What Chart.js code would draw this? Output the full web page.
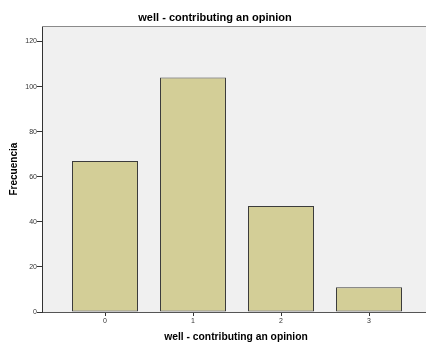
<!DOCTYPE html>
<html><head><meta charset="utf-8">
<script src="https://cdn.jsdelivr.net/npm/chart.js@4/dist/chart.umd.min.js"></script>
<style>
html,body{margin:0;padding:0;background:#fff;overflow:hidden;width:426px;height:343px}
#wrap{width:430px;height:343px;position:relative}
canvas{display:block}
</style></head><body><div id="wrap"><canvas id="c" width="430" height="343"></canvas></div>
<script>
const categories = [0, 1, 2, 3];
const frequencies = [67, 104, 47, 11];
const yTicks = [0, 20, 40, 60, 80, 100, 120];
const chartTitle = 'well - contributing an opinion';
const xAxisTitle = 'well - contributing an opinion';
const yAxisTitle = 'Frecuencia';

const FONT = '"Liberation Sans", Arial, sans-serif';

const bgPlugin = {
  id: 'bg',
  beforeDraw(chart) {
    const {ctx, chartArea: a} = chart;
    ctx.save();
    ctx.fillStyle = '#ffffff';
    ctx.fillRect(0, 0, chart.width, chart.height);
    ctx.fillStyle = '#f0f0f0';
    ctx.fillRect(a.left, a.top, a.right - a.left, a.bottom - a.top);
    ctx.restore();
  },
  afterDraw(chart) {
    const {ctx, chartArea: a} = chart;
    ctx.save();
    ctx.strokeStyle = '#8a8a8a';
    ctx.lineWidth = 1;
    ctx.beginPath();
    ctx.moveTo(a.left, Math.round(a.top) + 0.5);
    ctx.lineTo(a.right, Math.round(a.top) + 0.5);
    ctx.stroke();
    ctx.restore();
  }
};

new Chart(document.getElementById('c'), {
  type: 'bar',
  data: {
    datasets: [{
      data: categories.map((c, i) => ({x: c, y: frequencies[i]})),
      backgroundColor: '#d3ce97',
      borderColor: '#3c3c3c',
      borderWidth: 1,
      borderSkipped: false,
      barPercentage: 0.75,
      categoryPercentage: 1
    }]
  },
  options: {
    responsive: false,
    animation: false,
    devicePixelRatio: 1,
    layout: {padding: 0},
    plugins: {
      legend: {display: false},
      tooltip: {enabled: false},
      title: {
        display: true,
        text: chartTitle,
        color: '#000',
        font: {family: FONT, size: 11, weight: 'bold'},
        padding: {top: 11, bottom: 2}
      }
    },
    scales: {
      x: {
        type: 'linear',
        offset: false,
        min: -0.71591,
        max: 3.69318,
        afterBuildTicks: s => { s.ticks = categories.map(v => ({value: v})); },
        afterFit: s => { s.height = 31; },
        grid: {offset: false, drawOnChartArea: false, drawTicks: true, tickLength: 4, color: '#333', tickWidth: 1},
        border: {display: true, color: '#555', width: 1},
        ticks: {font: {family: FONT, size: 7}, color: '#333', padding: 1, maxRotation: 0,
                callback: v => String(v)},
        title: {display: true, text: xAxisTitle, color: '#000',
                font: {family: FONT, size: 10.3, weight: 'bold'}, padding: {top: 0, bottom: 0}}
      },
      y: {
        type: 'linear',
        min: 0,
        max: 126.8,
        afterBuildTicks: s => { s.ticks = yTicks.map(v => ({value: v})); },
        afterFit: s => { s.width = 42; },
        grid: {drawOnChartArea: false, drawTicks: true, tickLength: 5, color: '#333', tickWidth: 1},
        border: {display: true, color: '#333', width: 1},
        ticks: {font: {family: FONT, size: 7}, color: '#333', padding: 0,
                callback: v => String(v)},
        title: {display: true, text: yAxisTitle, color: '#000',
                font: {family: FONT, size: 10, weight: 'bold'}, padding: {top: 8, bottom: 0}}
      }
    }
  },
  plugins: [bgPlugin]
});
</script></body></html>
